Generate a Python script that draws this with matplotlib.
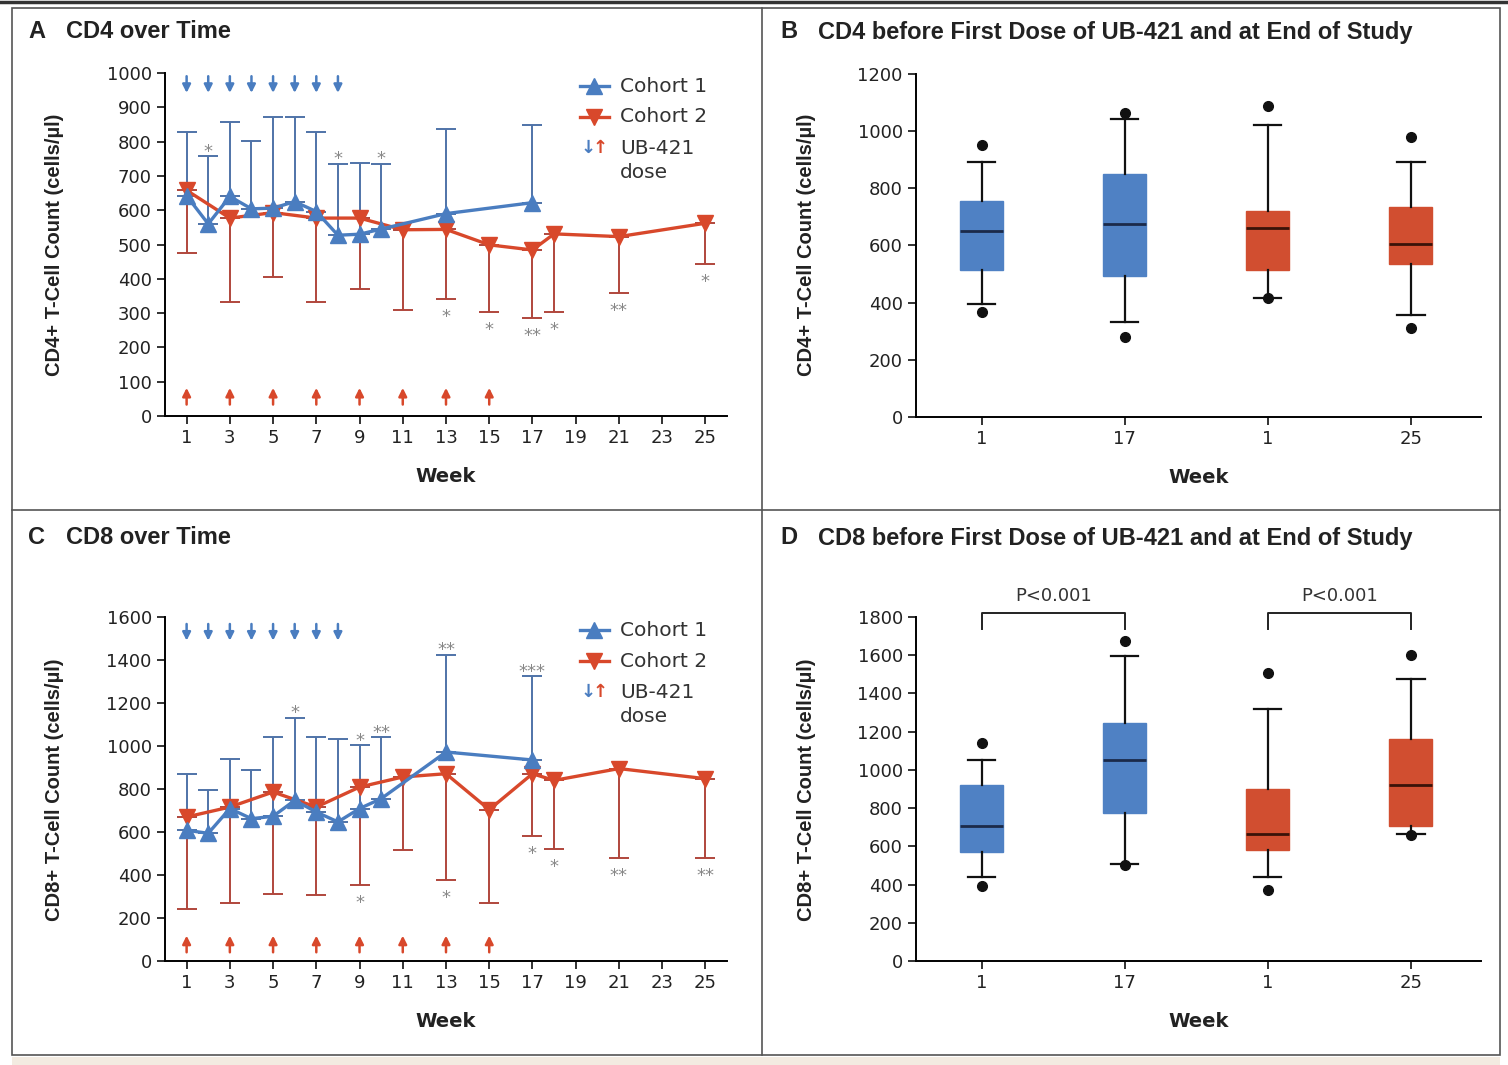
import matplotlib
matplotlib.use('Agg')
import matplotlib.pyplot as plt
from matplotlib.lines import Line2D
from matplotlib.patches import Rectangle

# ---- data ----
# panel A, CD4 over time
weeks_c1 = [1, 2, 3, 4, 5, 6, 7, 8, 9, 10, 13, 17]
cd4_c1 = [642, 560, 640, 604, 606, 625, 596, 527, 530, 545, 590, 622]
cd4_c1_hi = [827, 757, 856, 803, 872, 872, 827, 736, 739, 736, 838, 847]
weeks_c2 = [1, 3, 5, 7, 9, 11, 13, 15, 17, 18, 21, 25]
cd4_c2 = [658, 577, 593, 577, 577, 543, 544, 499, 484, 531, 523, 562]
cd4_c2_lo = [475, 331, 405, 331, 370, 309, 341, 302, 285, 302, 360, 444]
cd4_stars_c1 = {2: '*', 8: '*', 10: '*'}
cd4_stars_c2 = {13: '*', 15: '*', 17: '**', 18: '*', 21: '**', 25: '*'}

# panel C, CD8 over time
cd8_c1 = [608, 594, 709, 662, 673, 747, 693, 647, 709, 755, 972, 935]
cd8_c1_hi = [868, 797, 941, 887, 1042, 1132, 1042, 1034, 1006, 1042, 1425, 1324]
cd8_c2 = [670, 716, 786, 716, 809, 856, 871, 704, 871, 840, 895, 848]
cd8_c2_lo = [243, 270, 313, 305, 352, 518, 378, 270, 580, 522, 479, 479]
cd8_stars_c1 = {6: '*', 9: '*', 10: '**', 13: '**', 17: '***'}
cd8_stars_c2 = {9: '*', 13: '*', 17: '*', 18: '*', 21: '**', 25: '**'}

dose_c1 = [1, 2, 3, 4, 5, 6, 7, 8]
dose_c2 = [1, 3, 5, 7, 9, 11, 13, 15]

# panels B and D, box plots (cohort 1 wk1, wk17, cohort 2 wk1, wk25)
box_labels = ['1', '17', '1', '25']
cd4_q1 = [514, 493, 514, 535]
cd4_med = [652, 674, 660, 605]
cd4_q3 = [756, 850, 722, 736]
cd4_wlo = [397, 331, 418, 356]
cd4_whi = [891, 1042, 1021, 891]
cd4_out = [[952, 368], [1065, 280], [1089, 415], [978, 310]]

cd8_q1 = [568, 774, 582, 704]
cd8_med = [704, 1054, 664, 921]
cd8_q3 = [919, 1246, 902, 1164]
cd8_wlo = [439, 509, 439, 664]
cd8_whi = [1054, 1596, 1321, 1473]
cd8_out = [[1141, 390], [1674, 503], [1505, 372], [1601, 657]]

blue = '#4A7DC0'
red = '#D8482B'
blue_err = '#4F73A8'
red_err = '#B0463C'
box_cols = ['#4F81C4', '#4F81C4', '#D14E30', '#D14E30']
med_cols = ['#1B2A4A', '#1B2A4A', '#3A1208', '#3A1208']

W, H = 1508, 1065
fig = plt.figure(figsize=(W / 100, H / 100), dpi=100)
plt.rcParams['font.family'] = ['DejaVu Sans']
title_font = 'Liberation Sans'


def add_ax(left, top, right, bottom):
    return fig.add_axes([left / W, 1 - bottom / H, (right - left) / W, (bottom - top) / H])


def style(ax):
    for s in ['top', 'right']:
        ax.spines[s].set_visible(False)
    for s in ['left', 'bottom']:
        ax.spines[s].set_linewidth(1.4)
    ax.tick_params(direction='out', length=6, width=1.3, labelsize=13, colors='#222')


def time_panel(ax, c1, c1_hi, c2, c2_lo, stars1, stars2, ymax, arrow_hi, arrow_lo):
    ax.errorbar(weeks_c2, c2, yerr=[[v - l for v, l in zip(c2, c2_lo)], [0] * len(c2)],
                fmt='none', ecolor=red_err, elinewidth=1.4, capsize=7, capthick=1.4, zorder=2)
    ax.errorbar(weeks_c1, c1, yerr=[[0] * len(c1), [h - v for v, h in zip(c1, c1_hi)]],
                fmt='none', ecolor=blue_err, elinewidth=1.4, capsize=7, capthick=1.4, zorder=2)
    ax.plot(weeks_c2, c2, color=red, lw=2.4, marker='v', ms=11, zorder=3)
    ax.plot(weeks_c1, c1, color=blue, lw=2.4, marker='^', ms=11, zorder=4)
    for w, s in stars1.items():
        ax.annotate(s, (w, c1_hi[weeks_c1.index(w)]), xytext=(0, 3), textcoords='offset points',
                    ha='center', va='center', fontsize=13, color='#888')
    for w, s in stars2.items():
        ax.annotate(s, (w, c2_lo[weeks_c2.index(w)]), xytext=(0, -13), textcoords='offset points',
                    ha='center', va='center', fontsize=13, color='#888')
    for w in dose_c1:
        ax.annotate('', xy=(w, arrow_hi), xytext=(0, 12), textcoords='offset points',
                    arrowprops=dict(arrowstyle='-|>', color=blue, lw=1.8, mutation_scale=12,
                                    shrinkA=0, shrinkB=0))
    for w in dose_c2:
        ax.annotate('', xy=(w, arrow_lo), xytext=(0, -12), textcoords='offset points',
                    arrowprops=dict(arrowstyle='-|>', color=red, lw=1.8, mutation_scale=12,
                                    shrinkA=0, shrinkB=0))
    ax.set_xlim(0, 26)
    ax.set_ylim(0, ymax)
    ax.set_xticks(range(1, 26, 2))
    ax.set_xlabel('Week', fontsize=14, fontweight='bold', color='#222', labelpad=14)
    style(ax)
    # legend
    tr = ax.transAxes
    ax.plot([0.738, 0.79], [0.962, 0.962], color=blue, lw=2.4, transform=tr, clip_on=False)
    ax.plot([0.764], [0.962], marker='^', ms=11, color=blue, transform=tr, clip_on=False)
    ax.plot([0.738, 0.79], [0.872, 0.872], color=red, lw=2.4, transform=tr, clip_on=False)
    ax.plot([0.764], [0.872], marker='v', ms=11, color=red, transform=tr, clip_on=False)
    ax.text(0.81, 0.962, 'Cohort 1', transform=tr, fontsize=14.5, va='center', color='#333')
    ax.text(0.81, 0.872, 'Cohort 2', transform=tr, fontsize=14.5, va='center', color='#333')
    ax.text(0.752, 0.781, '↓', transform=tr, fontsize=13, fontweight='bold', va='center',
            ha='center', color=blue)
    ax.text(0.775, 0.781, '↑', transform=tr, fontsize=13, fontweight='bold', va='center',
            ha='center', color=red)
    ax.text(0.81, 0.781, 'UB-421', transform=tr, fontsize=14.5, va='center', color='#333')
    ax.text(0.81, 0.711, 'dose', transform=tr, fontsize=14.5, va='center', color='#333')


def box_panel(ax, q1, med, q3, wlo, whi, out, ymax, step):
    stats = []
    for i in range(4):
        stats.append(dict(med=med[i], q1=q1[i], q3=q3[i], whislo=wlo[i], whishi=whi[i],
                          fliers=out[i], label=box_labels[i]))
    bp = ax.bxp(stats, positions=[1, 2, 3, 4], widths=0.3, patch_artist=True,
                showcaps=True, capwidths=0.19,
                whiskerprops=dict(color='#111', lw=1.6),
                capprops=dict(color='#111', lw=1.6),
                flierprops=dict(marker='o', markerfacecolor='#111', markeredgecolor='#111',
                                markersize=7))
    for patch, c in zip(bp['boxes'], box_cols):
        patch.set_facecolor(c)
        patch.set_edgecolor(c)
    for m, c in zip(bp['medians'], med_cols):
        m.set_color(c)
        m.set_linewidth(2)
    ax.set_xlim(0.54, 4.49)
    ax.set_ylim(0, ymax)
    ax.set_yticks(range(0, ymax + 1, step))
    ax.set_xlabel('Week', fontsize=14, fontweight='bold', color='#222', labelpad=14)
    style(ax)


axA = add_ax(165, 73, 727, 416)
time_panel(axA, cd4_c1, cd4_c1_hi, cd4_c2, cd4_c2_lo, cd4_stars_c1, cd4_stars_c2,
           1000, 942, 82)
axA.set_yticks(range(0, 1001, 100))

axC = add_ax(165, 617, 727, 961)
time_panel(axC, cd8_c1, cd8_c1_hi, cd8_c2, cd8_c2_lo, cd8_stars_c1, cd8_stars_c2,
           1600, 1490, 118)
axC.set_yticks(range(0, 1601, 200))

axB = add_ax(916, 74, 1481, 417)
box_panel(axB, cd4_q1, cd4_med, cd4_q3, cd4_wlo, cd4_whi, cd4_out, 1200, 200)

axD = add_ax(916, 617, 1481, 961)
box_panel(axD, cd8_q1, cd8_med, cd8_q3, cd8_wlo, cd8_whi, cd8_out, 1800, 200)

# significance brackets in D
for a, b in [(1, 2), (3, 4)]:
    axD.plot([a, a, b, b], [1735, 1823, 1823, 1735], color='#222', lw=1.4, clip_on=False)
    axD.text((a + b) / 2, 1910, 'P<0.001', ha='center', va='center', fontsize=13,
             color='#333', clip_on=False)

# y labels
for x, y, s in [(55, 245, 'CD4+ T-Cell Count (cells/µl)'),
                (55, 790, 'CD8+ T-Cell Count (cells/µl)'),
                (807, 245, 'CD4+ T-Cell Count (cells/µl)'),
                (807, 790, 'CD8+ T-Cell Count (cells/µl)')]:
    fig.text(x / W, 1 - y / H, s, rotation=90, ha='center', va='center', fontsize=14.5,
             fontweight='bold', family=title_font, color='#222')

# panel titles
for x, y, letter, s in [(28, 32, 'A', 'CD4 over Time'),
                        (780, 32, 'B', 'CD4 before First Dose of UB-421 and at End of Study'),
                        (28, 538, 'C', 'CD8 over Time'),
                        (780, 538, 'D', 'CD8 before First Dose of UB-421 and at End of Study')]:
    fig.text(x / W, 1 - y / H, letter, ha='left', va='center', fontsize=17,
             fontweight='bold', family=title_font, color='#222')
    fig.text((x + 38) / W, 1 - y / H, s, ha='left', va='center', fontsize=17,
             fontweight='bold', family=title_font, color='#222')

# frame lines
fig.add_artist(Line2D([0, 1], [1 - 1.5 / H, 1 - 1.5 / H], color='#333', lw=2.5))
fig.add_artist(Rectangle((12 / W, 1 - 1055 / H), (1500 - 12) / W, (1055 - 8) / H,
                         fill=False, edgecolor='#555', lw=1.2))
fig.add_artist(Line2D([762 / W, 762 / W], [1 - 8 / H, 1 - 1055 / H], color='#555', lw=1.2))
fig.add_artist(Line2D([12 / W, 1500 / W], [1 - 510 / H, 1 - 510 / H], color='#555', lw=1.2))
fig.add_artist(Rectangle((12 / W, 0), (1500 - 12) / W, (1065 - 1057) / H,
                         facecolor='#f3ebe1', edgecolor='none'))

fig.savefig('out.png', dpi=100)
